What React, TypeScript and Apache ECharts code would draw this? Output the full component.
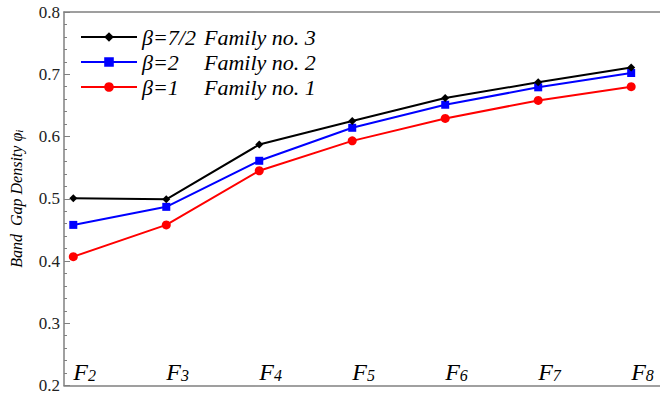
import React, { useEffect, useRef } from "react";
import * as echarts from "echarts";

const familyIndex = [2, 3, 4, 5, 6, 7, 8];
const family3 = [0.501, 0.499, 0.587, 0.625, 0.662, 0.687, 0.711];
const family2 = [0.458, 0.487, 0.561, 0.614, 0.651, 0.679, 0.702];
const family1 = [0.407, 0.458, 0.545, 0.593, 0.629, 0.658, 0.680];
const legendBeta = ["β=7/2", "β=2", "β=1"];
const legendFamily = ["Family no. 3", "Family no. 2", "Family no. 1"];
const yTicks = [0.2, 0.3, 0.4, 0.5, 0.6, 0.7, 0.8];

const SERIF = "Liberation Serif, Times New Roman, DejaVu Serif, serif";
const AXIS_GRAY = "#808080";

export default function App() {
  const ref = useRef<HTMLDivElement>(null);
  useEffect(() => {
    if (!ref.current) return;
    const chart = echarts.init(ref.current, undefined, { renderer: "svg" });
    const pairs = (vals: number[]) => familyIndex.map((x, i) => [x, vals[i]]);
    const names = legendBeta.map((b, i) => `${b} ${legendFamily[i]}`);
    const option: any = {
      animation: false,
      backgroundColor: "#fff",
      textStyle: { fontFamily: SERIF },
      grid: { left: 62, right: 0, top: 12, bottom: 8, containLabel: false },
      legend: {
        show: true,
        left: 75,
        top: 21,
        orient: "vertical",
        itemWidth: 56,
        itemHeight: 12,
        itemGap: 3,
        data: names,
        formatter: (n: string) => {
          const i = names.indexOf(n);
          return `{b|${legendBeta[i]}}{f|${legendFamily[i]}}`;
        },
        textStyle: {
          fontFamily: SERIF,
          fontStyle: "italic",
          fontSize: 22,
          color: "#000",
          rich: {
            b: { fontFamily: SERIF, fontStyle: "italic", fontSize: 22, lineHeight: 22, color: "#000", width: 62 },
            f: { fontFamily: SERIF, fontStyle: "italic", fontSize: 22, lineHeight: 22, color: "#000" },
          },
        },
      },
      xAxis: [
        {
          type: "value",
          min: 1.9,
          max: 8.31,
          position: "bottom",
          axisLine: { show: true, onZero: false, lineStyle: { color: AXIS_GRAY, width: 1.5 } },
          axisTick: { show: false },
          splitLine: { show: false },
          axisLabel: {
            show: true,
            inside: true,
            margin: 2,
            align: "left",
            customValues: familyIndex,
            formatter: (v: number) => `{F|F}{s|${v}}`,
            rich: {
              F: { fontFamily: SERIF, fontStyle: "italic", fontSize: 24, color: "#000", verticalAlign: "bottom", lineHeight: 26 },
              s: { fontFamily: SERIF, fontStyle: "italic", fontSize: 16, color: "#000", verticalAlign: "bottom", lineHeight: 18 },
            },
          },
        },
        {
          type: "value",
          min: 1.9,
          max: 8.31,
          position: "top",
          axisLine: { show: true, onZero: false, lineStyle: { color: AXIS_GRAY, width: 1.5 } },
          axisTick: { show: false },
          splitLine: { show: false },
          axisLabel: { show: false },
        },
      ],
      yAxis: {
        type: "value",
        min: 0.2,
        max: 0.8,
        interval: 0.1,
        name: "{a|Band  Gap Density }{p|φ}{i|i}",
        nameLocation: "middle",
        nameGap: 40,
        nameRotate: 90,
        nameTextStyle: {
          rich: {
            a: { fontFamily: SERIF, fontStyle: "italic", fontSize: 16, color: "#000" },
            p: { fontFamily: SERIF, fontStyle: "italic", fontSize: 16, color: "#000" },
            i: { fontFamily: SERIF, fontStyle: "italic", fontSize: 11, color: "#000", verticalAlign: "bottom", lineHeight: 10 },
          },
        },
        axisLine: { show: true, lineStyle: { color: AXIS_GRAY, width: 1.5 } },
        axisTick: { show: true, inside: true, length: 6, lineStyle: { color: AXIS_GRAY, width: 1 } },
        minorTick: { show: true, splitNumber: 5, length: 3, lineStyle: { color: AXIS_GRAY, width: 1 } },
        splitLine: { show: false },
        axisLabel: {
          margin: 4,
          fontFamily: SERIF,
          fontSize: 17,
          color: "#222",
          formatter: (v: number) => {
            const t = yTicks.find((y) => Math.abs(y - v) < 1e-6);
            return t !== undefined ? t.toFixed(1) : "";
          },
        },
      },
      series: [
        {
          name: names[2],
          type: "line",
          data: pairs(family1),
          color: "#ff0000",
          symbol: "circle",
          symbolSize: 9,
          lineStyle: { width: 2, color: "#ff0000" },
          itemStyle: { color: "#ff0000" },
        },
        {
          name: names[1],
          type: "line",
          data: pairs(family2),
          color: "#0000ff",
          symbol: "rect",
          symbolSize: 8,
          lineStyle: { width: 2, color: "#0000ff" },
          itemStyle: { color: "#0000ff" },
        },
        {
          name: names[0],
          type: "line",
          data: pairs(family3),
          color: "#000000",
          symbol: "diamond",
          symbolSize: 8,
          lineStyle: { width: 2, color: "#000000" },
          itemStyle: { color: "#000000" },
        },
      ],
    };
    chart.setOption(option);
    return () => chart.dispose();
  }, []);
  return <div ref={ref} style={{ width: 660, height: 394, position: "absolute", left: 0, top: 0 }} />;
}
